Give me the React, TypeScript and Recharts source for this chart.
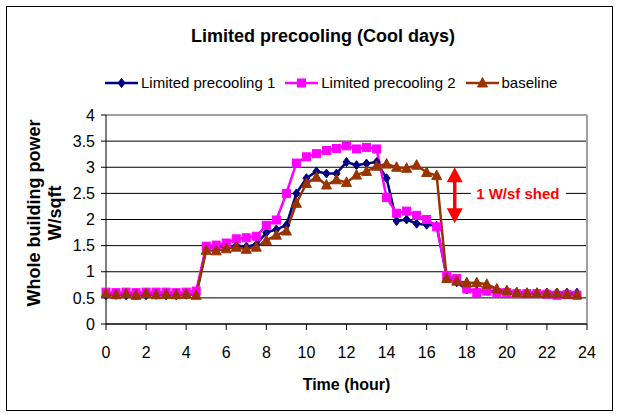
import { LineChart, Line, XAxis, YAxis, CartesianGrid, Legend, ReferenceLine, ReferenceDot } from 'recharts';

const hours = [
  0, 0.5, 1, 1.5, 2, 2.5, 3, 3.5, 4, 4.5, 5, 5.5, 6, 6.5, 7, 7.5, 8, 8.5, 9, 9.5, 10, 10.5, 11, 11.5,
  12, 12.5, 13, 13.5, 14, 14.5, 15, 15.5, 16, 16.5, 17, 17.5, 18, 18.5, 19, 19.5, 20, 20.5, 21, 21.5, 22, 22.5, 23, 23.5,
];

const precool1 = [
  0.55, 0.56, 0.55, 0.55, 0.55, 0.56, 0.55, 0.55, 0.56, 0.57, 1.45, 1.47, 1.48, 1.5, 1.48, 1.52, 1.75, 1.81, 1.89, 2.5,
  2.79, 2.92, 2.88, 2.88, 3.1, 3.04, 3.07, 3.1, 2.79, 1.97, 2.0, 1.92, 1.9, 1.88, 0.9, 0.8, 0.66, 0.63, 0.64, 0.62,
  0.62, 0.61, 0.6, 0.6, 0.6, 0.6, 0.6, 0.6,
];

const precool2 = [
  0.61, 0.6, 0.61, 0.6, 0.61, 0.61, 0.61, 0.6, 0.61, 0.63, 1.49, 1.51, 1.55, 1.63, 1.65, 1.68, 1.89, 1.99, 2.5, 3.08,
  3.2, 3.26, 3.32, 3.36, 3.41, 3.35, 3.38, 3.35, 2.42, 2.12, 2.16, 2.08, 2.0, 1.86, 0.93, 0.87, 0.67, 0.6, 0.63, 0.6,
  0.6, 0.58, 0.58, 0.58, 0.57, 0.55, 0.56, 0.55,
];

const baseline = [
  0.58, 0.56, 0.58, 0.55, 0.58, 0.56, 0.57, 0.56, 0.57, 0.55, 1.41, 1.4, 1.44, 1.47, 1.43, 1.47, 1.6, 1.7, 1.78, 2.31,
  2.69, 2.81, 2.66, 2.76, 2.71, 2.85, 2.92, 3.02, 3.06, 3.0, 2.98, 3.04, 2.9, 2.84, 0.87, 0.82, 0.79, 0.79, 0.76, 0.67,
  0.64, 0.6, 0.59, 0.59, 0.58, 0.58, 0.57, 0.56,
];

const xTicks = [0, 2, 4, 6, 8, 10, 12, 14, 16, 18, 20, 22, 24];
const yTicks = [0, 0.5, 1, 1.5, 2, 2.5, 3, 3.5, 4];

const data = hours.map((h, i) => ({ hour: h, p1: precool1[i], p2: precool2[i], base: baseline[i] }));

const FONT = '"Liberation Sans", Arial, sans-serif';
const BLUE = '#000080';
const PINK = '#ff00ff';
const BROWN = '#993300';

function Diamond({ cx, cy, color }: { cx: number; cy: number; color: string }) {
  return <polygon points={`${cx},${cy - 4.5} ${cx + 3.5},${cy} ${cx},${cy + 4.5} ${cx - 3.5},${cy}`} fill={color} stroke={color} />;
}
function Square({ cx, cy, color }: { cx: number; cy: number; color: string }) {
  return <rect x={cx - 4} y={cy - 4} width={8} height={8} fill={color} stroke={color} />;
}
function Triangle({ cx, cy, color }: { cx: number; cy: number; color: string }) {
  return <polygon points={`${cx},${cy - 5.5} ${cx + 5},${cy + 4} ${cx - 5},${cy + 4}`} fill={color} stroke={color} />;
}

const series = [
  { key: 'p1', name: 'Limited precooling 1', color: BLUE, Marker: Diamond },
  { key: 'p2', name: 'Limited precooling 2', color: PINK, Marker: Square },
  { key: 'base', name: 'baseline', color: BROWN, Marker: Triangle },
];

function LegendBox() {
  return (
    <div style={{ display: 'flex', alignItems: 'center', fontFamily: FONT, fontSize: 15, color: '#000' }}>
      {series.map(({ key, name, color, Marker }) => (
        <div key={key} style={{ display: 'flex', alignItems: 'center', marginRight: 10 }}>
          <svg width={33} height={14} style={{ marginRight: 3 }}>
            <line x1={0} y1={7} x2={33} y2={7} stroke={color} strokeWidth={2.5} />
            <Marker cx={16.5} cy={7} color={color} />
          </svg>
          <span>{name}</span>
        </div>
      ))}
    </div>
  );
}

function YLabel() {
  return (
    <g fontFamily={FONT} fontSize={18} fontWeight="bold" fill="#000" textAnchor="middle">
      <text x={39.5} y={213} transform="rotate(-90, 39.5, 213)">Whole building power</text>
      <text x={60.5} y={213} transform="rotate(-90, 60.5, 213)">W/sqft</text>
    </g>
  );
}

export default function App() {
  return (
    <div style={{ position: 'absolute', left: 0, top: 0, width: 619, height: 414, background: '#fff' }}>
      <div style={{ position: 'absolute', left: 6, top: 6, width: 605, height: 403, border: '1px solid #000' }} />
      <div
        style={{
          position: 'absolute', left: 0, top: 26, width: 646, textAlign: 'center',
          fontFamily: FONT, fontSize: 18, fontWeight: 'bold', color: '#000',
        }}
      >
        Limited precooling (Cool days)
      </div>
      <div style={{ position: 'absolute', left: 0, top: 0 }}>
        <LineChart width={619} height={414} data={data} margin={{ top: 115, right: 32, bottom: 50, left: 56 }}>
          <CartesianGrid horizontal vertical={false} stroke="#000" strokeWidth={1} />
          <XAxis
            dataKey="hour"
            type="number"
            domain={[0, 24]}
            ticks={xTicks}
            height={40}
            tickSize={6}
            tickMargin={17}
            interval={0}
            axisLine={{ stroke: '#000' }}
            tickLine={{ stroke: '#000' }}
            tick={{ fill: '#000', fontSize: 16, fontFamily: FONT }}
            label={{ value: 'Time (hour)', position: 'bottom', offset: 15, fill: '#000', fontSize: 16, fontWeight: 'bold', fontFamily: FONT }}
          />
          <YAxis
            domain={[0, 4]}
            ticks={yTicks}
            width={50}
            tickSize={5}
            tickMargin={6}
            interval={0}
            axisLine={{ stroke: '#000' }}
            tickLine={{ stroke: '#000' }}
            tick={{ fill: '#000', fontSize: 16, fontFamily: FONT }}
            label={{ content: () => <YLabel /> }}
          />
          <ReferenceLine y={4} stroke="#a0a0a0" strokeWidth={2} />
          <ReferenceLine x={24} stroke="#a0a0a0" strokeWidth={2} />
          <Legend
            layout="horizontal"
            verticalAlign="middle"
            align="center"
            wrapperStyle={{ top: 74, left: 105, width: 500 }}
            content={() => <LegendBox />}
          />
          {series.map(({ key, name, color, Marker }) => (
            <Line
              key={key}
              dataKey={key}
              name={name}
              stroke={color}
              strokeWidth={2.5}
              type="linear"
              isAnimationActive={false}
              dot={(p: any) => <Marker key={`${key}-${p.index}`} cx={p.cx} cy={p.cy} color={color} />}
              activeDot={false}
            />
          ))}
          <ReferenceLine segment={[{ x: 17.4, y: 2.1 }, { x: 17.4, y: 2.85 }]} stroke="#ff0000" strokeWidth={3.5} />
          <ReferenceDot
            x={17.4}
            y={3.0}
            r={0}
            shape={(p: any) => <polygon points={`${p.cx},${p.cy} ${p.cx + 8},${p.cy + 15} ${p.cx - 8},${p.cy + 15}`} fill="#ff0000" />}
          />
          <ReferenceDot
            x={17.4}
            y={1.93}
            r={0}
            shape={(p: any) => <polygon points={`${p.cx},${p.cy} ${p.cx + 8},${p.cy - 15} ${p.cx - 8},${p.cy - 15}`} fill="#ff0000" />}
          />
          <ReferenceDot
            x={20.55}
            y={2.5}
            r={0}
            shape={(p: any) => (
              <g>
                <rect x={p.cx - 47} y={p.cy - 9} width={95} height={18} fill="#fff" />
                <text x={p.cx} y={p.cy} dy={5.5} textAnchor="middle" fill="#ff0000" fontSize={15} fontWeight="bold" fontFamily={FONT}>
                  1 W/sf shed
                </text>
              </g>
            )}
          />
        </LineChart>
      </div>
    </div>
  );
}
